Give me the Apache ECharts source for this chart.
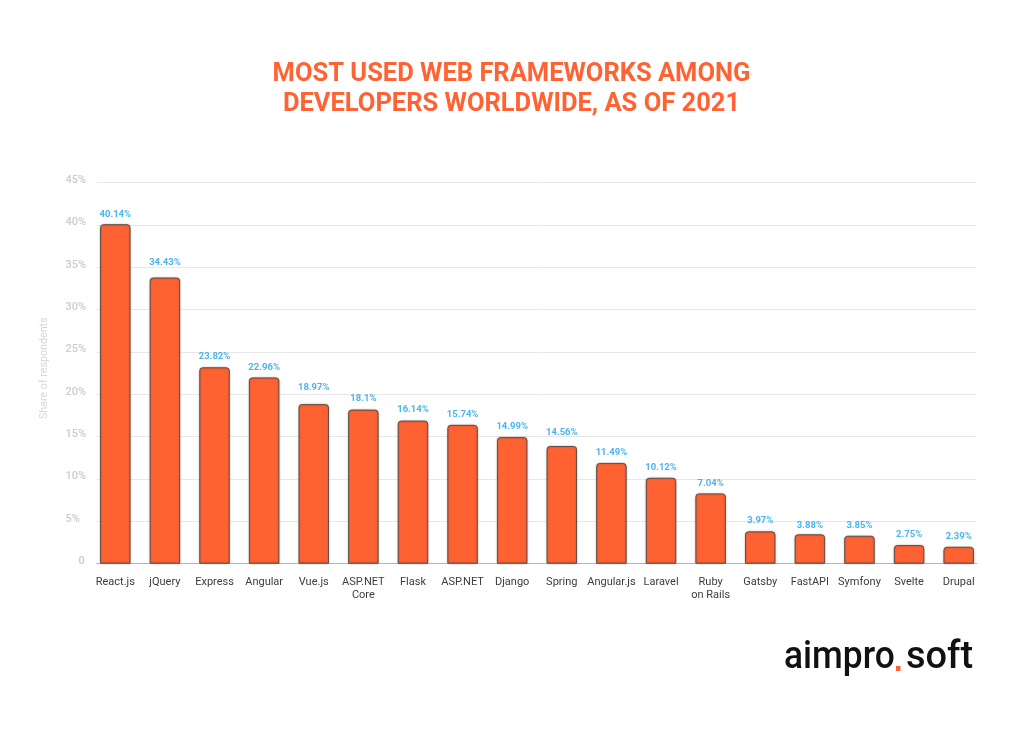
<!DOCTYPE html>
<html>
<head>
<meta charset="utf-8">
<style>html,body{margin:0;padding:0;background:#fff}#c{width:1024px;height:729px}</style>
<script src="https://cdn.jsdelivr.net/npm/echarts@6/dist/echarts.min.js"></script>
</head>
<body>
<div id="c"></div>
<script>
var categories = ['React.js','jQuery','Express','Angular','Vue.js','ASP.NET\nCore','Flask','ASP.NET','Django','Spring','Angular.js','Laravel','Ruby\non Rails','Gatsby','FastAPI','Symfony','Svelte','Drupal'];
var barHeights = [40.1,33.8,23.2,22.0,18.85,18.2,16.9,16.4,14.95,13.9,11.9,10.15,8.3,3.82,3.47,3.3,2.2,2.0];
var labelTexts = ['40.14%','34.43%','23.82%','22.96%','18.97%','18.1%','16.14%','15.74%','14.99%','14.56%','11.49%','10.12%','7.04%','3.97%','3.88%','3.85%','2.75%','2.39%'];
var labelHeights = [41.25,35.6,24.45,23.15,20.85,19.5,18.2,17.6,16.2,15.45,13.1,11.35,9.45,5.05,4.5,4.5,3.45,3.2];

var FONT = 'Roboto';
var chart = echarts.init(document.getElementById('c'), null, {renderer:'canvas'});
chart.setOption({
  animation:false,
  backgroundColor:'#fff',
  title:{
    text:'MOST USED WEB FRAMEWORKS AMONG\nDEVELOPERS WORLDWIDE, AS OF 2021',
    left:506.5, top:55,
    textAlign:'center',
    textStyle:{fontFamily:FONT,fontWeight:'bold',fontSize:25.5,lineHeight:30,color:'#ff6233'}
  },
  grid:[
    {left:96.7,top:182.7,width:880,height:381},
    {left:90.5,top:182.7,width:893,height:381}
  ],
  xAxis:[
    {gridIndex:0,type:'category',data:[],axisTick:{show:false},axisLabel:{show:false},
     axisLine:{show:true,lineStyle:{color:'#b4b4b4',width:1}},splitLine:{show:false}},
    {gridIndex:1,type:'category',data:categories,axisTick:{show:false},axisLine:{show:false},
     axisLabel:{interval:0,margin:12,fontFamily:FONT,fontSize:11,lineHeight:13,color:'#3c3c3c',align:'center',verticalAlign:'top'}}
  ],
  yAxis:[
    {gridIndex:0,type:'value',min:0,max:45,interval:5,
     name:'Share of respondents',nameLocation:'middle',nameGap:47,
     nameTextStyle:{fontFamily:FONT,fontSize:10.7,color:'#d6d6d6',padding:[0,0,0,10]},
     axisLine:{show:false},axisTick:{show:false},
     axisLabel:{margin:31.2,align:'left',fontFamily:FONT,fontSize:11,fontWeight:500,color:'#cccccc',padding:[0,0,5,0],
       formatter:function(v){return v===0?'{z|0}':v+'%';},
       rich:{z:{fontFamily:FONT,fontSize:11,fontWeight:500,color:'#cccccc',padding:[0,0,0,13]}}},
     splitLine:{show:true,lineStyle:{color:'#e8e8e8',width:1}}},
    {gridIndex:1,type:'value',min:0,max:45,interval:5,show:false,splitLine:{show:false}}
  ],
  series:[
    {name:'Share of respondents',type:'bar',xAxisIndex:1,yAxisIndex:1,data:barHeights,barWidth:30.5,
     itemStyle:{color:'#ff6232',borderColor:'#5e5048',borderWidth:1,borderRadius:[3,3,0,0],
       shadowColor:'rgba(0,0,0,0.25)',shadowBlur:2},silent:true},
    {name:'Labels',type:'scatter',xAxisIndex:1,yAxisIndex:1,data:labelHeights,symbolSize:1,
     itemStyle:{color:'rgba(0,0,0,0)'},silent:true,z:5,
     label:{show:true,position:'inside',fontFamily:FONT,fontSize:9.5,fontWeight:'bold',color:'#1aa3e8',
       formatter:function(p){return labelTexts[p.dataIndex];}},
     labelLayout:{hideOverlap:false}}
  ],
  graphic:[
    {type:'text',x:784,y:639,scaleX:0.93,style:{text:'aimpro',fontFamily:FONT,fontSize:38,fontWeight:500,fill:'#111'}},
    {type:'rect',x:896,y:666,shape:{width:4.5,height:5},style:{fill:'#ff6232'}},
    {type:'text',x:906,y:639,style:{text:'soft',fontFamily:FONT,fontSize:38,fontWeight:500,fill:'#111'}}
  ]
});
</script>
</body>
</html>
